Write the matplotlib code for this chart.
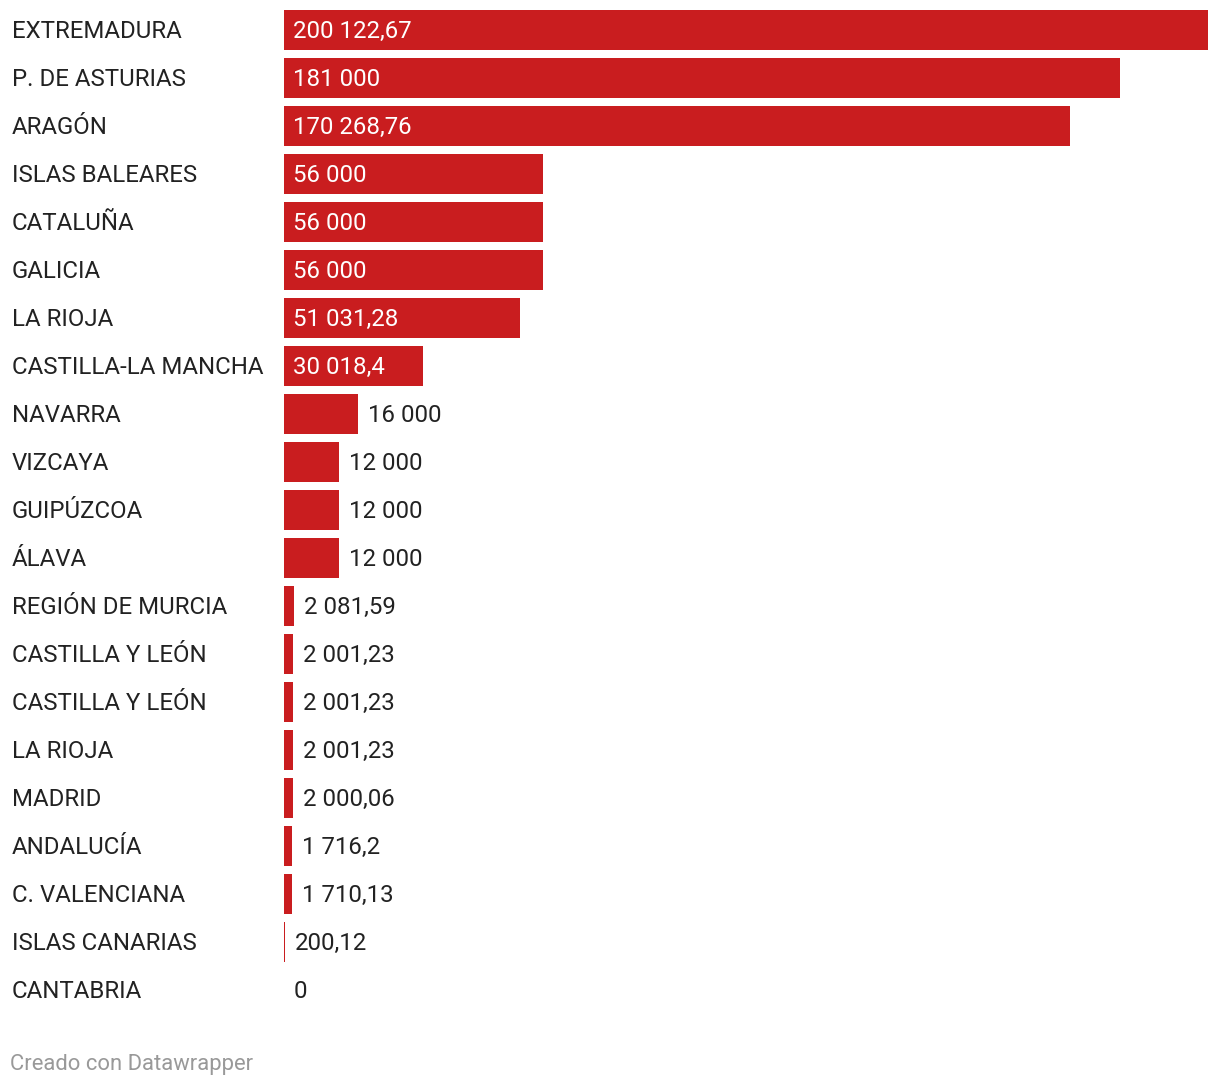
import matplotlib.pyplot as plt
from matplotlib import transforms

# data
regions = ["EXTREMADURA", "P. DE ASTURIAS", "ARAGÓN", "ISLAS BALEARES", "CATALUÑA",
           "GALICIA", "LA RIOJA", "CASTILLA-LA MANCHA", "NAVARRA", "VIZCAYA",
           "GUIPÚZCOA", "ÁLAVA", "REGIÓN DE MURCIA", "CASTILLA Y LEÓN",
           "CASTILLA Y LEÓN", "LA RIOJA", "MADRID", "ANDALUCÍA", "C. VALENCIANA",
           "ISLAS CANARIAS", "CANTABRIA"]
values = [200122.67, 181000, 170268.76, 56000, 56000, 56000, 51031.28, 30018.4,
          16000, 12000, 12000, 12000, 2081.59, 2001.23, 2001.23, 2001.23,
          2000.06, 1716.2, 1710.13, 200.12, 0]

RED = "#c91d1f"
FONT = "Roboto"
FS = 17.3


def fmt(v):
    s = str(v)
    if "." in s:
        ent, dec = s.split(".")
    else:
        ent, dec = s, ""
    groups = []
    while len(ent) > 3:
        groups.insert(0, ent[-3:])
        ent = ent[:-3]
    groups.insert(0, ent)
    out = " ".join(groups)
    if dec:
        out += "," + dec
    return out


W, H = 1220, 1086
fig = plt.figure(figsize=(W / 100, H / 100), dpi=100)
ax = fig.add_axes([284 / W, 1 - 1014 / H, (1208 - 284) / W, 1008 / H])

y = list(range(len(regions)))
ax.barh(y, values, height=40 / 48, color=RED)
ax.set_xlim(0, max(values))
ax.set_ylim(len(regions) - 0.5, -0.5)
ax.axis("off")

# small pixel offsets for the text (1 px up)
up = transforms.ScaledTranslation(0, 1 / 100, fig.dpi_scale_trans)
lab_tr = transforms.blended_transform_factory(fig.transFigure, ax.transData) + up
in_off = ax.transData + transforms.ScaledTranslation(9 / 100, 1 / 100, fig.dpi_scale_trans)
out_off = ax.transData + transforms.ScaledTranslation(10 / 100, 1 / 100, fig.dpi_scale_trans)
for i, (name, v) in enumerate(zip(regions, values)):
    ax.text(12 / W, i, name, transform=lab_tr, ha="left", va="center_baseline",
            fontsize=FS, family=FONT, color="#222222")
    if v > 25000:
        ax.text(0, i, fmt(v), transform=in_off, ha="left",
                va="center_baseline", fontsize=FS, family=FONT, color="white")
    else:
        ax.text(v, i, fmt(v), transform=out_off, ha="left",
                va="center_baseline", fontsize=FS, family=FONT, color="#222222")

fig.text(10 / W, 1 - 1062 / H, "Creado con Datawrapper", ha="left",
         va="center_baseline", fontsize=15.8, family=FONT, color="#999999")

fig.savefig("out.png", dpi=100, facecolor="white")
